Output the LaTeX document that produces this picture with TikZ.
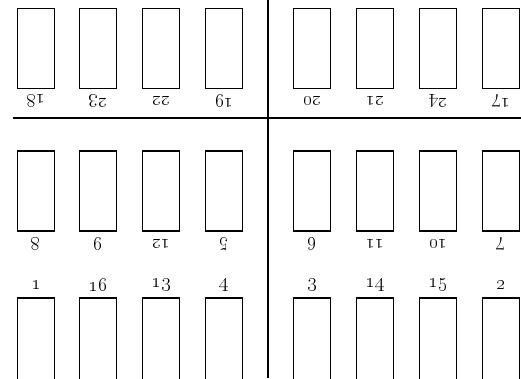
\RequirePackage{fix-cm}
\documentclass[tikz,border=0pt]{standalone}
\begin{document}
\begin{tikzpicture}[x=1pt,y=1pt,
  slot/.style={draw,line width=1.1pt,minimum width=37pt,minimum height=80pt,inner sep=0pt},
  cutslot/.style={slot,minimum height=84pt},
  num/.style={font=\fontsize{20}{20}\selectfont,inner sep=0pt},
  inv/.style={num,rotate=180},
  wall/.style={line width=2pt}]
\useasboundingbox (0,0) rectangle (521,378);
% columns centres
\def\colA{36}\def\colB{98}\def\colC{161}\def\colD{224}
\def\colE{312}\def\colF{375}\def\colG{438}\def\colH{501}
% top row
\foreach \c/\lab [count=\i] in {\colA/18,\colB/23,\colC/22,\colD/19,\colE/20,\colF/21,\colG/24,\colH/17}{
  \node[slot] (t\i) at (\c,329.5) {};
  \node[inv] (tl\i) at (\c,277) {\oldstylenums{\lab}};
}
% middle row
\foreach \c/\lab [count=\i] in {\colA/8,\colB/9,\colC/12,\colD/5,\colE/6,\colF/11,\colG/10,\colH/7}{
  \node[slot] (m\i) at (\c,187) {};
  \node[inv] (ml\i) at (\c,134) {\oldstylenums{\lab}};
}
% bottom row (cut off by the lower edge)
\foreach \c/\lab [count=\i] in {\colA/1,\colB/16,\colC/13,\colD/4,\colE/3,\colF/14,\colG/15,\colH/2}{
  \node[cutslot] (b\i) at (\c,38) {};
  \node[num] (bl\i) at (\c,93) {\oldstylenums{\lab}};
}
% dividing lines
\draw[wall] (268,378) -- (268,0);
\draw[wall] (13,260) -- (521,260);
\end{tikzpicture}
\end{document}
